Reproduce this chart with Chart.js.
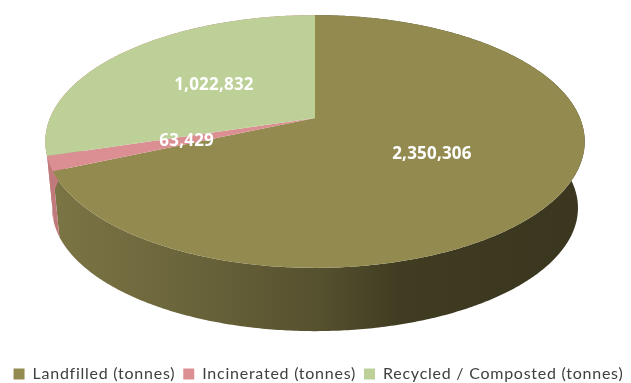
<!DOCTYPE html>
<html>
<head>
<meta charset="utf-8">
<style>
  html, body { margin: 0; padding: 0; background: #fff; overflow: hidden; }
  #wrap { width: 631px; height: 383px; }
</style>
<script src="https://cdn.jsdelivr.net/npm/chart.js@4"></script>
</head>
<body>
<div id="wrap"><canvas id="wasteChart" width="631" height="383"></canvas></div>
<script>
const categories = ['Landfilled (tonnes)', 'Incinerated (tonnes)', 'Recycled / Composted (tonnes)'];
const tonnes = [2350306, 63429, 1022832];
const sliceColors = ['#938a50', '#dc8f92', '#bdd097'];
// [offset, colour] along the width of the disc
const wallStops = [
  [[0, '#7c7545'], [0.3, '#68623a'], [0.51, '#55502e'], [0.66, '#403c22'], [1, '#3a361f']],
  [[0, '#c07a7c'], [1, '#c07a7c']],
  [[0, '#c07a7c'], [1, '#c07a7c']]
];

// tilted disc: apex sits above the centre of the ellipse, front edge looks bigger
const apex = { x: 315, y: 118 };
const tilt = { a: 265, b: 122, k: -0.186 };
const depth = { dy: 67, shrink: 0.975 };

function project(angle, r) {
  const u = Math.cos(angle) * r;
  const v = Math.sin(angle) * r;
  const d = 1 + tilt.k * v;
  return { x: apex.x + tilt.a * u / d, y: apex.y + tilt.b * v / d };
}

function rim(start, end) {
  const pts = [];
  const steps = Math.max(2, Math.ceil((end - start) / 0.01));
  for (let i = 0; i <= steps; i++) {
    pts.push(project(start + (end - start) * i / steps, 1));
  }
  return pts;
}

function lower(p) {
  return {
    x: apex.x + (p.x - apex.x) * depth.shrink,
    y: apex.y + (p.y - apex.y) * depth.shrink + depth.dy
  };
}

function wallFill(ctx, index) {
  const g = ctx.createLinearGradient(45, 0, 585, 0);
  wallStops[index].forEach(s => g.addColorStop(s[0], s[1]));
  return g;
}

const tiltedPie = {
  id: 'tiltedPie',
  beforeLayout(chart) {
    // legend text is set a little loose, it measures with the same spacing
    chart.ctx.letterSpacing = '0.75px';
  },
  beforeDatasetDraw(chart) {
    const ctx = chart.ctx;
    const arcs = chart.getDatasetMeta(0).data;
    ctx.save();

    // side walls first, the top face goes over them
    arcs.forEach((arc, i) => {
      const p = arc.getProps(['startAngle', 'endAngle'], true);
      const top = rim(p.startAngle, p.endAngle);
      ctx.beginPath();
      top.forEach((pt, n) => n ? ctx.lineTo(pt.x, pt.y) : ctx.moveTo(pt.x, pt.y));
      top.slice().reverse().map(lower).forEach(pt => ctx.lineTo(pt.x, pt.y));
      ctx.closePath();
      ctx.fillStyle = wallFill(ctx, i);
      ctx.fill();
    });

    arcs.forEach((arc, i) => {
      const p = arc.getProps(['startAngle', 'endAngle'], true);
      ctx.beginPath();
      ctx.moveTo(apex.x, apex.y);
      rim(p.startAngle, p.endAngle).forEach(pt => ctx.lineTo(pt.x, pt.y));
      ctx.closePath();
      ctx.fillStyle = sliceColors[i];
      ctx.fill();
    });

    ctx.restore();
    return false;
  },
  afterDatasetsDraw(chart) {
    const ctx = chart.ctx;
    const arcs = chart.getDatasetMeta(0).data;
    ctx.save();
    ctx.font = 'bold 17px "Open Sans"';
    ctx.letterSpacing = '0.2px';
    ctx.fillStyle = '#ffffff';
    ctx.textAlign = 'center';
    ctx.textBaseline = 'middle';
    arcs.forEach((arc, i) => {
      const p = arc.getProps(['startAngle', 'endAngle'], true);
      const pos = project((p.startAngle + p.endAngle) / 2, 0.5);
      ctx.fillText(tonnes[i].toLocaleString('en-US'), pos.x, pos.y + 1.5);
    });
    ctx.restore();
  }
};

new Chart(document.getElementById('wasteChart'), {
  type: 'pie',
  data: {
    labels: categories,
    datasets: [{ data: tonnes, backgroundColor: sliceColors, borderWidth: 0 }]
  },
  options: {
    responsive: false,
    animation: false,
    layout: { padding: { left: 3, right: -3, bottom: -9 } },
    plugins: {
      tooltip: { enabled: false },
      legend: {
        position: 'bottom',
        labels: {
          boxWidth: 11,
          boxHeight: 11,
          padding: 8,
          color: '#404040',
          font: { family: 'Lato', size: 16 }
        }
      }
    }
  },
  plugins: [tiltedPie]
});
</script>
</body>
</html>
